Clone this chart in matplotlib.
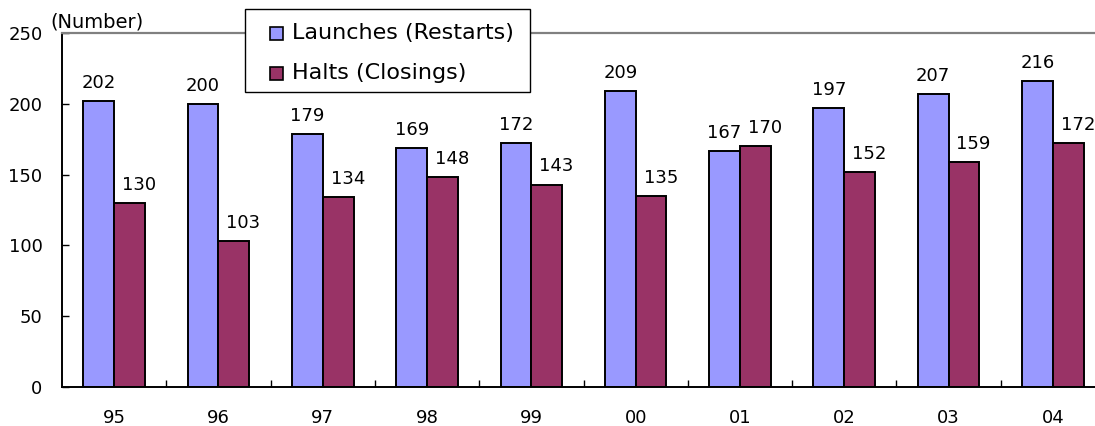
import matplotlib
matplotlib.use("Agg")
import matplotlib.pyplot as plt
import numpy as np
from matplotlib.patches import Rectangle

plt.rcParams['font.family'] = ['DejaVu Sans', 'Noto Sans CJK JP']

years = ["95", "96", "97", "98", "99", "00", "01", "02", "03", "04"]
launches = [202, 200, 179, 169, 172, 209, 167, 197, 207, 216]
halts = [130, 103, 134, 148, 143, 135, 170, 152, 159, 172]
yticks = [0, 50, 100, 150, 200, 250]
series_names = ["Launches (Restarts)", "Halts (Closings)"]

c_launch = "#9999FF"
c_halt = "#993366"

W, H = 1095, 426
fig = plt.figure(figsize=(W / 100, H / 100), dpi=100)
ax = fig.add_axes([62 / W, (H - 387) / H, 1043 / W, 354 / H])

x = np.arange(len(years))
bw = 0.295
ax.bar(x - bw / 2, launches, bw, color=c_launch, edgecolor="black", linewidth=1.4)
ax.bar(x + bw / 2, halts, bw, color=c_halt, edgecolor="black", linewidth=1.4)

fs = 13
for i, (a, b) in enumerate(zip(launches, halts)):
    ax.annotate(str(a), (x[i] - bw / 2, a), xytext=(0, 6.5), textcoords="offset points",
                ha="center", va="bottom", fontsize=fs)
    ax.annotate(str(b), (x[i] + bw / 2, b), xytext=(7, 6.5), textcoords="offset points",
                ha="center", va="bottom", fontsize=fs)

ax.set_xlim(-0.5, len(years) - 0.5)
ax.set_ylim(0, 250)
ax.set_yticks(yticks)
ax.set_yticklabels([str(v) for v in yticks], fontsize=fs)
ax.set_xticks(x)
ax.set_xticklabels(years, fontsize=fs)
ax.set_xticks(np.arange(len(years) - 1) + 0.5, minor=True)
ax.tick_params(axis="x", which="major", length=0, pad=16)
ax.tick_params(axis="x", which="minor", direction="in", length=5, width=1)
ax.tick_params(axis="y", direction="in", length=5, width=1, pad=14)

for s in ["left", "bottom"]:
    ax.spines[s].set_color("black")
    ax.spines[s].set_linewidth(1.4)
ax.spines["top"].set_color("#808080")
ax.spines["top"].set_linewidth(1.6)
ax.spines["right"].set_visible(False)

fig.text(50 / W, 1 - 22 / H, "(Number)", fontsize=14, ha="left", va="center")

# legend drawn as a framed box
def px(xp, yp):
    return xp / W, 1 - yp / H

x0, y0 = px(245, 92)
fig.patches.append(Rectangle((x0, y0), 285 / W, 83 / H, transform=fig.transFigure,
                             facecolor="white", edgecolor="black", linewidth=1.0,
                             zorder=5))
for name, col, yc in zip(series_names, [c_launch, c_halt], [33, 73]):
    sx, sy = px(270, yc + 6.5)
    fig.patches.append(Rectangle((sx, sy), 13 / W, 13 / H, transform=fig.transFigure,
                                 facecolor=col, edgecolor="black", linewidth=1.2,
                                 zorder=6))
    tx, ty = px(292, yc)
    fig.text(tx, ty, name, fontsize=16, ha="left", va="center", zorder=7)

fig.savefig("out.png", dpi=100)
